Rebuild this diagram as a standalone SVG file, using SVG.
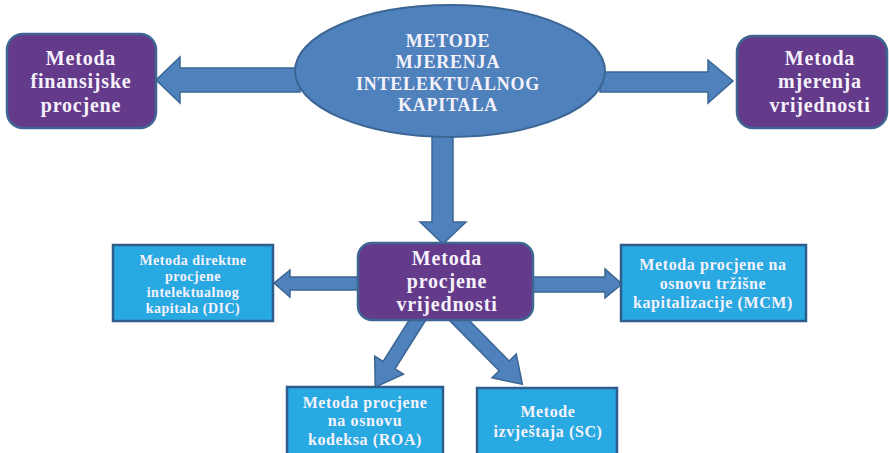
<svg xmlns="http://www.w3.org/2000/svg" width="889" height="453" viewBox="0 0 889 453">
<style>
.arrow{fill:#4f81bd;stroke:#3b6593;stroke-width:1.5;stroke-linejoin:miter}
.purple{fill:#643a8a;stroke:#3f6592;stroke-width:2.5}
.blue{fill:#29a9e1;stroke:#2f5d8c;stroke-width:2.5}
.ell{fill:#4f81bd;stroke:#3b6593;stroke-width:2}
text{font-family:"Liberation Serif","Times New Roman",serif;font-weight:bold;fill:#f6f2fb;text-anchor:middle}
.big{font-size:20px;letter-spacing:0.8px}
.ellt{font-size:18px;letter-spacing:0.8px}
.sm{font-size:14px;letter-spacing:0.5px}
.md{font-size:16px;letter-spacing:0.6px}
</style>
<g id="connectors">
<polygon class="arrow" points="300,68 180,68 180,57 156,80 180,103 180,92 300,92"/>
<polygon class="arrow" points="600,72 708,72 708,60 733,81 708,103 708,92 600,92"/>
<polygon class="arrow" points="432,135 453,135 453,222 466,222 443,244 420,222 432,222"/>
<polygon class="arrow" points="360,277 290,277 290,270 274,283 290,297 290,290 360,290"/>
<polygon class="arrow" points="530,277 605,277 605,269 622,284 605,298 605,292 530,292"/>
<g transform="translate(420,316) rotate(122.2)"><polygon class="arrow" points="0,-7 58,-7 58,-17 84,0 58,17 58,7 0,7"/></g>
<g transform="translate(455,316) rotate(45.4)"><polygon class="arrow" points="0,-7 70,-7 70,-17 96,0 70,17 70,7 0,7"/></g>
</g>
<g id="center">
<ellipse class="ell" cx="450" cy="71" rx="155" ry="66"/>
<text class="ellt" x="448" y="47">METODE</text>
<text class="ellt" x="448" y="68">MJERENJA</text>
<text class="ellt" x="448" y="90">INTELEKTUALNOG</text>
<text class="ellt" x="448" y="111">KAPITALA</text>
</g>
<g id="finansijske">
<rect class="purple" x="7" y="34" width="149" height="94" rx="16"/>
<text class="big" x="81" y="65">Metoda</text>
<text class="big" x="81" y="88">finansijske</text>
<text class="big" x="81" y="112">procjene</text>
</g>
<g id="mjerenja">
<rect class="purple" x="737" y="36" width="150" height="92" rx="16"/>
<text class="big" x="820" y="65">Metoda</text>
<text class="big" x="820" y="88">mjerenja</text>
<text class="big" x="820" y="112">vrijednosti</text>
</g>
<g id="procjene">
<rect class="purple" x="358" y="243" width="175" height="77" rx="14"/>
<text class="big" x="447" y="265">Metoda</text>
<text class="big" x="447" y="288">procjene</text>
<text class="big" x="447" y="311">vrijednosti</text>
</g>
<g id="dic">
<rect class="blue" x="113" y="245" width="160" height="76"/>
<text class="sm" x="193" y="265">Metoda direktne</text>
<text class="sm" x="193" y="281">procjene</text>
<text class="sm" x="193" y="297">intelektualnog</text>
<text class="sm" x="193" y="313">kapitala (DIC)</text>
</g>
<g id="mcm">
<rect class="blue" x="621" y="245" width="185" height="76"/>
<text class="md" x="713" y="270">Metoda procjene na</text>
<text class="md" x="713" y="289">osnovu tržišne</text>
<text class="md" x="713" y="308">kapitalizacije (MCM)</text>
</g>
<g id="roa">
<rect class="blue" x="287" y="387" width="156" height="70"/>
<text class="md" x="365" y="408">Metoda procjene</text>
<text class="md" x="365" y="426">na osnovu</text>
<text class="md" x="365" y="445">kodeksa (ROA)</text>
</g>
<g id="sc">
<rect class="blue" x="477" y="388" width="140" height="69"/>
<text class="md" x="548" y="417">Metode</text>
<text class="md" x="548" y="437">izvještaja (SC)</text>
</g>
</svg>
